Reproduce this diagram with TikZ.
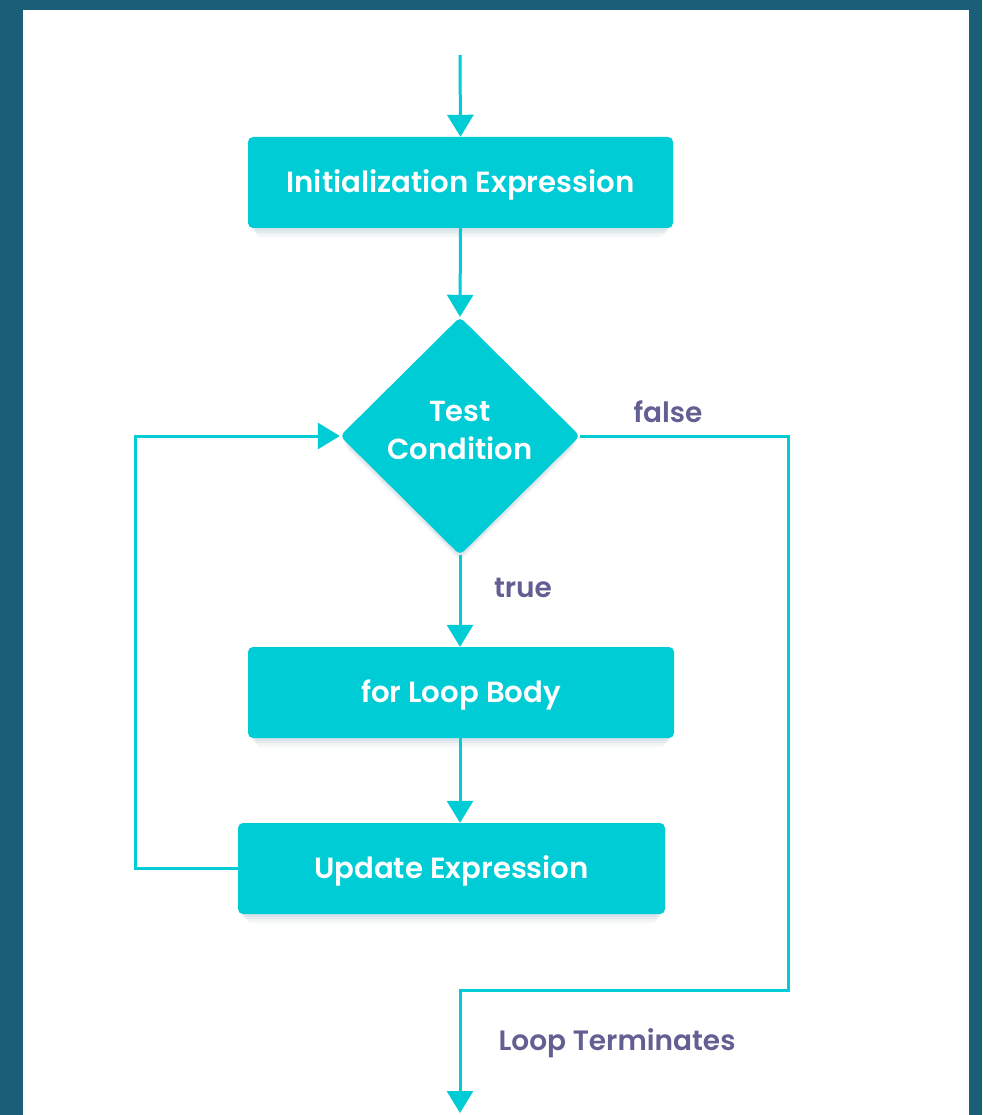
\documentclass[tikz,border=0pt]{standalone}
\usepackage{fontspec}
\setmainfont{Poppins}[BoldFont={Poppins SemiBold}]
\usetikzlibrary{shapes.geometric,arrows.meta,shadows}
\definecolor{frame}{HTML}{1B5E78}
\definecolor{flow}{HTML}{00CCD6}
\definecolor{lbl}{HTML}{625F92}
\tikzset{
  softshadow/.style={
    drop shadow={opacity=0.05, shadow xshift=0pt, shadow yshift=-3pt, shadow scale=0.99, fill=frame},
    drop shadow={opacity=0.05, shadow xshift=0pt, shadow yshift=-6pt, shadow scale=0.98, fill=frame},
    drop shadow={opacity=0.04, shadow xshift=0pt, shadow yshift=-9pt, shadow scale=0.97, fill=frame},
    drop shadow={opacity=0.03, shadow xshift=0pt, shadow yshift=-12pt, shadow scale=0.96, fill=frame}},
  stepbox/.style={rectangle, rounded corners=5pt, fill=flow, text=white,
    inner sep=0pt, text height=20pt, text depth=0pt,
    font=\fontsize{29.2}{31}\selectfont\bfseries, softshadow},
  decision/.style={diamond, rounded corners=5pt, fill=flow,
    inner sep=0pt, minimum width=240pt, minimum height=238pt, softshadow},
  decisiontext/.style={text=white, align=center,
    font=\fontsize{29}{38}\selectfont\bfseries},
  conn/.style={draw=flow, line width=3pt, -{Triangle[width=26pt,length=22pt]}},
  edgelabel/.style={text=lbl, font=\fontsize{28}{30}\selectfont\bfseries}
}
\begin{document}
\begin{tikzpicture}[x=1pt,y=-1pt]
  % frame and sheet
  \fill[frame] (0,0) rectangle (982,1115);
  \fill[white] (23,10) rectangle (969,1115);
  \useasboundingbox (0,0) rectangle (982,1115);

  % boxes
  \node[stepbox, minimum width=425pt, minimum height=91pt] (init) at (460.5,182.5) {Initialization Expression};
  \node[decision] (test) at (460,436) {};
  \node[decisiontext] (testtext) at (460,431) {Test\\Condition};
  \node[stepbox, minimum width=426pt, minimum height=91pt] (body) at (461,692.5) {for Loop Body};
  \node[stepbox, minimum width=427pt, minimum height=91pt] (update) at (451.5,868.5) {Update Expression};

  % free ends and corners
  \coordinate (start) at (460,55);
  \coordinate (rtop) at (788,436);
  \coordinate (rbot) at (788,990);
  \coordinate (dturn) at (460,990);
  \coordinate (finish) at (460,1113);
  \coordinate (lbot) at (135,868.5);
  \coordinate (ltop) at (135,436);

  % connectors
  \draw[conn] (start) -- (init.north);
  \draw[conn] (init.south) -- (test.north);
  \draw[conn] (test.south) -- (body.north -| test.south);
  \draw[conn] (body.south -| test.south) -- (update.north -| test.south);
  \draw[conn] (update.west) -- (lbot) -- (ltop) -- (test.west);
  \draw[conn] (test.east) -- (rtop) -- (rbot) -- (dturn) -- (finish);

  % labels
  \node[edgelabel] (lfalse) at (668,412) {false};
  \node[edgelabel] (ltrue) at (523,588) {true};
  \node[edgelabel, anchor=west] (lterm) at (495,1043) {Loop Terminates};
\end{tikzpicture}
\end{document}
